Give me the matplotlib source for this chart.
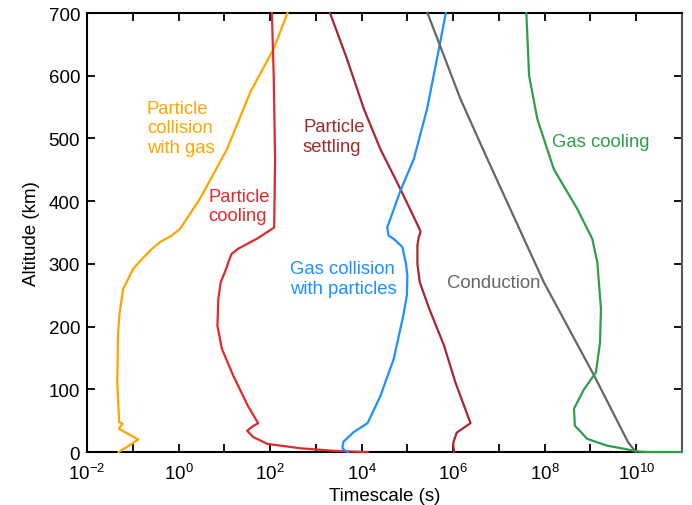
import numpy as np
import matplotlib
matplotlib.use("Agg")
import matplotlib.pyplot as plt
from matplotlib.ticker import FixedLocator, LogFormatterMathtext, NullFormatter

plt.rcParams["font.family"] = ["Liberation Sans", "DejaVu Sans"]
plt.rcParams["mathtext.fontset"] = "custom"
plt.rcParams["mathtext.rm"] = "Liberation Sans"
plt.rcParams["mathtext.it"] = "Liberation Sans:italic"

# altitude (km) and log10 timescale (s)
coll_gas_alt = [700, 643, 574, 483, 404, 356, 345, 335, 324, 310, 292, 260, 220, 191, 112, 53, 48, 45, 40, 37, 20, 10, 0]
coll_gas_log = [2.38, 2.08, 1.57, 1.06, 0.47, 0.035, -0.15, -0.40, -0.58, -0.77, -0.99, -1.21, -1.29, -1.32, -1.34, -1.30, -1.30, -1.22, -1.28, -1.30, -0.88, -1.08, -1.31]

pcool_alt = [700, 600, 467, 358, 340, 324, 316, 305, 292, 270, 244, 201, 164, 121, 73, 46, 40, 34, 24, 13, 6, 2, 0.5, 0]
pcool_log = [2.04, 2.08, 2.11, 2.09, 1.71, 1.30, 1.16, 1.10, 1.04, 0.92, 0.87, 0.85, 0.95, 1.20, 1.52, 1.74, 1.60, 1.50, 1.63, 1.94, 2.66, 3.38, 3.90, 4.13]

settle_alt = [700, 627, 547, 483, 419, 358, 351, 343, 330, 300, 271, 228, 170, 111, 46, 31, 21, 13, 0]
settle_log = [3.31, 3.68, 4.05, 4.41, 4.85, 5.25, 5.29, 5.25, 5.22, 5.22, 5.27, 5.48, 5.80, 6.05, 6.38, 6.08, 6.03, 6.00, 6.02]

gas_coll_alt = [700, 643, 547, 467, 417, 358, 345, 340, 327, 300, 281, 250, 217, 148, 89, 46, 32, 16, 6, 2, 0]
gas_coll_log = [5.84, 5.69, 5.43, 5.14, 4.85, 4.56, 4.59, 4.70, 4.89, 4.97, 5.00, 4.99, 4.91, 4.70, 4.41, 4.13, 3.83, 3.60, 3.58, 3.65, 3.70]

cond_alt = [700, 563, 467, 271, 122, 16, 0]
cond_log = [5.44, 6.16, 6.75, 7.98, 9.08, 9.82, 9.99]

gcool_alt = [700, 600, 531, 451, 388, 340, 303, 228, 175, 127, 100, 69, 42, 21, 10, 5, 2, 0.5, 0, 0]
gcool_log = [7.60, 7.66, 7.84, 8.20, 8.71, 9.04, 9.15, 9.23, 9.21, 9.12, 8.86, 8.64, 8.66, 8.93, 9.37, 9.75, 9.95, 10.1, 10.3, 11.0]

curves = [
    (coll_gas_log, coll_gas_alt, "#FFA500"),
    (pcool_log, pcool_alt, "#E02B2B"),
    (settle_log, settle_alt, "#A8282C"),
    (gas_coll_log, gas_coll_alt, "#1E90FF"),
    (cond_log, cond_alt, "#666666"),
    (gcool_log, gcool_alt, "#2E9E4A"),
]

# label: left edge (log10 s), centre altitude (km), text, colour
labels = [
    (-0.69, 517, "Particle\ncollision\nwith gas", "#FFA500"),
    (0.65, 392, "Particle\ncooling", "#E02B2B"),
    (2.72, 503, "Particle\nsettling", "#A8282C"),
    (2.44, 277, "Gas collision\nwith particles", "#1E90FF"),
    (5.86, 270, "Conduction", "#666666"),
    (8.15, 495, "Gas cooling", "#2E9E4A"),
]

fig = plt.figure(figsize=(6.92, 5.06), dpi=100)
ax = fig.add_axes([0.1257, 0.1047, 0.8598, 0.8676])

for lg, alt, col in curves:
    ax.plot(10.0 ** np.array(lg), alt, color=col, lw=1.6, solid_joinstyle="round", clip_on=False, zorder=3)

for lx, ly, txt, col in labels:
    ax.text(10.0 ** lx, ly, txt, color=col, fontsize=13.3, ha="left", va="center",
            multialignment="left", linespacing=1.2)

ax.set_xscale("log")
ax.set_xlim(1e-2, 1e11)
ax.set_ylim(0, 700)
ax.xaxis.set_major_locator(FixedLocator([10.0 ** e for e in range(-2, 12, 2)]))
ax.xaxis.set_major_formatter(LogFormatterMathtext())
ax.xaxis.set_minor_locator(FixedLocator([10.0 ** e for e in range(-1, 12, 2)]))
ax.xaxis.set_minor_formatter(NullFormatter())
ax.set_yticks(range(0, 701, 100))

ax.tick_params(which="both", direction="in", top=True, right=True, length=6, width=1.3,
               labelsize=13.5, pad=5)
ax.tick_params(axis="x", pad=7.5)
for s in ax.spines.values():
    s.set_linewidth(1.5)
ax.spines["right"].set_color("#555555")

ax.set_xlabel("Timescale (s)", fontsize=13.5, labelpad=3)
ax.set_ylabel("Altitude (km)", fontsize=13.5, labelpad=6)

fig.savefig("out.png", dpi=100)
